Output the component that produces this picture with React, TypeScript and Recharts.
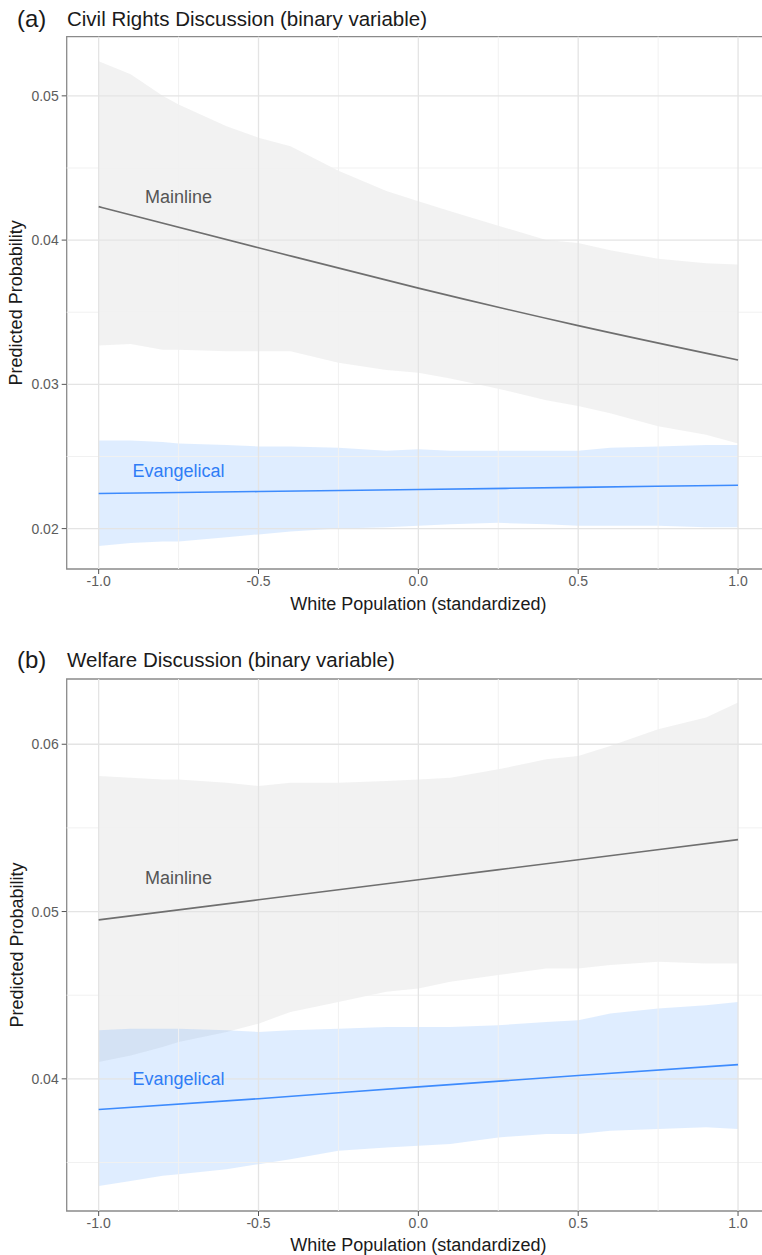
import React from 'react';
import {
  ComposedChart,
  Area,
  Line,
  XAxis,
  YAxis,
  ReferenceLine,
  ReferenceArea,
  ReferenceDot,
  Label,
} from 'recharts';

// ---------- data ----------
const xBand = [-1, -0.9, -0.8, -0.75, -0.6, -0.5, -0.4, -0.25, -0.1, 0, 0.1, 0.25, 0.4, 0.5, 0.6, 0.75, 0.9, 1];
const xFit = [-1, -0.5, 0, 0.5, 1];

// (a) Civil Rights
const civilMainlineUpper = [0.0524, 0.0515, 0.05, 0.0494, 0.0479, 0.0471, 0.0465, 0.0448, 0.0434, 0.0427, 0.042, 0.041, 0.04, 0.0398, 0.0393, 0.0387, 0.0384, 0.0383];
const civilMainlineLower = [0.0327, 0.0328, 0.0324, 0.0324, 0.0323, 0.0323, 0.0323, 0.0315, 0.031, 0.0308, 0.0304, 0.0297, 0.0289, 0.0285, 0.028, 0.0271, 0.0265, 0.0259];
const civilEvangelicalUpper = [0.0261, 0.0261, 0.026, 0.0259, 0.0258, 0.0257, 0.0257, 0.0256, 0.0254, 0.0255, 0.0254, 0.0254, 0.0254, 0.0254, 0.0256, 0.0257, 0.0258, 0.0258];
const civilEvangelicalLower = [0.0188, 0.019, 0.0191, 0.0191, 0.0194, 0.0196, 0.0198, 0.02, 0.0201, 0.0202, 0.0203, 0.0204, 0.0203, 0.0202, 0.0202, 0.0202, 0.0201, 0.0201];
const civilMainlineFit = [0.04232, 0.03947, 0.03667, 0.03407, 0.03169];
const civilEvangelicalFit = [0.02243, 0.02257, 0.02271, 0.02286, 0.02301];

// (b) Welfare
const welfareMainlineUpper = [0.0581, 0.058, 0.0579, 0.0579, 0.0577, 0.0575, 0.0577, 0.0577, 0.0578, 0.0579, 0.058, 0.0585, 0.0591, 0.0593, 0.0599, 0.0609, 0.0616, 0.0625];
const welfareMainlineLower = [0.041, 0.0414, 0.0419, 0.0422, 0.0428, 0.0433, 0.044, 0.0446, 0.0452, 0.0454, 0.0458, 0.0462, 0.0466, 0.0466, 0.0468, 0.047, 0.0469, 0.0469];
const welfareEvangelicalUpper = [0.0429, 0.043, 0.043, 0.043, 0.0429, 0.0428, 0.0429, 0.043, 0.0431, 0.0431, 0.0431, 0.0432, 0.0434, 0.0435, 0.0439, 0.0442, 0.0444, 0.0446];
const welfareEvangelicalLower = [0.0336, 0.0339, 0.0342, 0.0343, 0.0346, 0.0349, 0.0352, 0.0357, 0.0359, 0.036, 0.0361, 0.0365, 0.0367, 0.0367, 0.0369, 0.037, 0.0371, 0.037];
const welfareMainlineFit = [0.0495, 0.0507, 0.0519, 0.0531, 0.0543];
const welfareEvangelicalFit = [0.03817, 0.03881, 0.03952, 0.0402, 0.04085];

// ticks
const xMajor = [-1, -0.5, 0, 0.5, 1];
const xMinor = [-0.75, -0.25, 0.25, 0.75];
const civilYTicks = [0.02, 0.03, 0.04, 0.05];
const civilYMinor = [0.025, 0.035, 0.045];
const welfareYTicks = [0.04, 0.05, 0.06];
const welfareYMinor = [0.035, 0.045, 0.055];

const seriesNames = ['Mainline', 'Evangelical'];
const panelTags = ['(a)', '(b)'];
const panelTitles = ['Civil Rights Discussion (binary variable)', 'Welfare Discussion (binary variable)'];
const xTitle = 'White Population (standardized)';
const yTitle = 'Predicted Probability';

// ---------- styling ----------
const FONT = '"Liberation Sans", Arial, Helvetica, sans-serif';
const GRAY_FILL = '#bfbfbf';
const BLUE_FILL = '#4b9bff';
const GRAY_LINE = '#6f6f6f';
const BLUE_LINE = '#3d8bfd';

const band = (lo: number[], hi: number[]) => xBand.map((x, i) => ({ x, lo: lo[i], hi: hi[i] }));
const fit = (ys: number[]) => xFit.map((x, i) => ({ x, y: ys[i] }));

type PanelProps = {
  height: number;
  marginTop: number;
  xAxisHeight: number;
  xTitleDy: number;
  yDomain: [number, number];
  yTicks: number[];
  yMinor: number[];
  mainBand: any[];
  evBand: any[];
  mainFit: any[];
  evFit: any[];
  mainLabelY: number;
  evLabelY: number;
};

function Panel(p: PanelProps) {
  const rangeKey = (d: any) => [d.lo, d.hi];
  return (
    <ComposedChart
      width={780}
      height={p.height}
      margin={{ top: p.marginTop, right: 18, bottom: 0, left: 0 }}
    >
      <XAxis
        type="number"
        dataKey="x"
        domain={[-1.1, 1.1]}
        ticks={xMajor}
        interval={0}
        allowDataOverflow
        tickFormatter={(v: number) => v.toFixed(1)}
        tickSize={5}
        tickMargin={2}
        axisLine={false}
        tickLine={{ stroke: '#555555' }}
        tick={{ fill: '#5c5c5c', fontSize: 14, fontFamily: FONT }}
        height={p.xAxisHeight}
      >
        <Label
          content={(lp: any) => {
            const vb = lp.viewBox || { x: 0, y: 0, width: 0, height: 0 };
            return (
              <text
                x={vb.x + vb.width / 2}
                y={vb.y + p.xTitleDy}
                textAnchor="middle"
                dominantBaseline="central"
                fontSize={18}
                fill="#1a1a1a"
                fontFamily={FONT}
              >
                {xTitle}
              </text>
            );
          }}
        />
      </XAxis>
      <YAxis
        type="number"
        domain={p.yDomain}
        ticks={p.yTicks}
        interval={0}
        allowDataOverflow
        tickFormatter={(v: number) => v.toFixed(2)}
        tickSize={5}
        tickMargin={3}
        axisLine={false}
        tickLine={{ stroke: '#555555' }}
        tick={{ fill: '#5c5c5c', fontSize: 14, fontFamily: FONT }}
        width={58.7}
      >
        <Label
          content={(lp: any) => {
            const vb = lp.viewBox || { x: 0, y: 0, width: 0, height: 0 };
            const cx = 8.5;
            const cy = vb.y + vb.height / 2;
            return (
              <text
                x={cx}
                y={cy}
                textAnchor="middle"
                dominantBaseline="central"
                fontSize={18}
                fill="#1a1a1a"
                fontFamily={FONT}
                transform={`rotate(-90, ${cx}, ${cy})`}
              >
                {yTitle}
              </text>
            );
          }}
        />
      </YAxis>

      {p.yMinor.map((v) => (
        <ReferenceLine key={'ym' + v} y={v} stroke="#f1f1f1" strokeWidth={1} />
      ))}
      {xMinor.map((v) => (
        <ReferenceLine key={'xm' + v} x={v} stroke="#f1f1f1" strokeWidth={1} />
      ))}
      {p.yTicks.map((v) => (
        <ReferenceLine key={'yM' + v} y={v} stroke="#e4e4e4" strokeWidth={1.3} />
      ))}
      {xMajor.map((v) => (
        <ReferenceLine key={'xM' + v} x={v} stroke="#e4e4e4" strokeWidth={1.3} />
      ))}

      <Area
        data={p.mainBand}
        dataKey={rangeKey}
        type="linear"
        stroke="none"
        fill={GRAY_FILL}
        fillOpacity={0.2}
        isAnimationActive={false}
        activeDot={false}
        dot={false}
      />
      <Area
        data={p.evBand}
        dataKey={rangeKey}
        type="linear"
        stroke="none"
        fill={BLUE_FILL}
        fillOpacity={0.18}
        isAnimationActive={false}
        activeDot={false}
        dot={false}
      />
      <Line
        data={p.mainFit}
        dataKey="y"
        type="monotone"
        stroke={GRAY_LINE}
        strokeWidth={1.6}
        dot={false}
        activeDot={false}
        isAnimationActive={false}
      />
      <Line
        data={p.evFit}
        dataKey="y"
        type="monotone"
        stroke={BLUE_LINE}
        strokeWidth={1.6}
        dot={false}
        activeDot={false}
        isAnimationActive={false}
      />

      <ReferenceDot
        x={-0.75}
        y={p.mainLabelY}
        r={0}
        fill="none"
        stroke="none"
        label={{ value: seriesNames[0], position: 'center', fill: '#555555', fontSize: 18, fontFamily: FONT }}
      />
      <ReferenceDot
        x={-0.75}
        y={p.evLabelY}
        r={0}
        fill="none"
        stroke="none"
        label={{ value: seriesNames[1], position: 'center', fill: '#2f7df6', fontSize: 18, fontFamily: FONT }}
      />

      <ReferenceArea
        x1={-1.1}
        x2={1.1}
        y1={p.yDomain[0]}
        y2={p.yDomain[1]}
        fill="none"
        stroke="#8a8a8a"
        strokeWidth={1.3}
        ifOverflow="visible"
      />
    </ComposedChart>
  );
}

export default function App() {
  return (
    <div
      style={{
        position: 'absolute',
        left: 0,
        top: 0,
        width: 762,
        height: 1255,
        overflow: 'hidden',
        fontFamily: FONT,
        background: '#ffffff',
      }}
    >
      <svg width={762} height={1255} style={{ position: 'absolute', left: 0, top: 0, pointerEvents: 'none' }}>
        <text x={17} y={18} dominantBaseline="central" fontSize={24} fill="#1a1a1a" fontFamily={FONT}>{panelTags[0]}</text>
        <text x={67} y={18} dominantBaseline="central" fontSize={20.5} fill="#1a1a1a" fontFamily={FONT}>
          {panelTitles[0]}
        </text>
        <text x={17} y={659} dominantBaseline="central" fontSize={24} fill="#1a1a1a" fontFamily={FONT}>{panelTags[1]}</text>
        <text x={67} y={659} dominantBaseline="central" fontSize={20.5} fill="#1a1a1a" fontFamily={FONT}>
          {panelTitles[1]}
        </text>
      </svg>
      <div style={{ position: 'absolute', left: 8, top: 8 }}>
        <Panel
          height={611}
          marginTop={28.7}
          xAxisHeight={50}
          xTitleDy={35}
          yDomain={[0.0172, 0.0541]}
          yTicks={civilYTicks}
          yMinor={civilYMinor}
          mainBand={band(civilMainlineLower, civilMainlineUpper)}
          evBand={band(civilEvangelicalLower, civilEvangelicalUpper)}
          mainFit={fit(civilMainlineFit)}
          evFit={fit(civilEvangelicalFit)}
          mainLabelY={0.043}
          evLabelY={0.024}
        />
      </div>
      <div style={{ position: 'absolute', left: 8, top: 648 }}>
        <Panel
          height={607}
          marginTop={31}
          xAxisHeight={44}
          xTitleDy={34}
          yDomain={[0.0321, 0.0639]}
          yTicks={welfareYTicks}
          yMinor={welfareYMinor}
          mainBand={band(welfareMainlineLower, welfareMainlineUpper)}
          evBand={band(welfareEvangelicalLower, welfareEvangelicalUpper)}
          mainFit={fit(welfareMainlineFit)}
          evFit={fit(welfareEvangelicalFit)}
          mainLabelY={0.052}
          evLabelY={0.04}
        />
      </div>
    </div>
  );
}
